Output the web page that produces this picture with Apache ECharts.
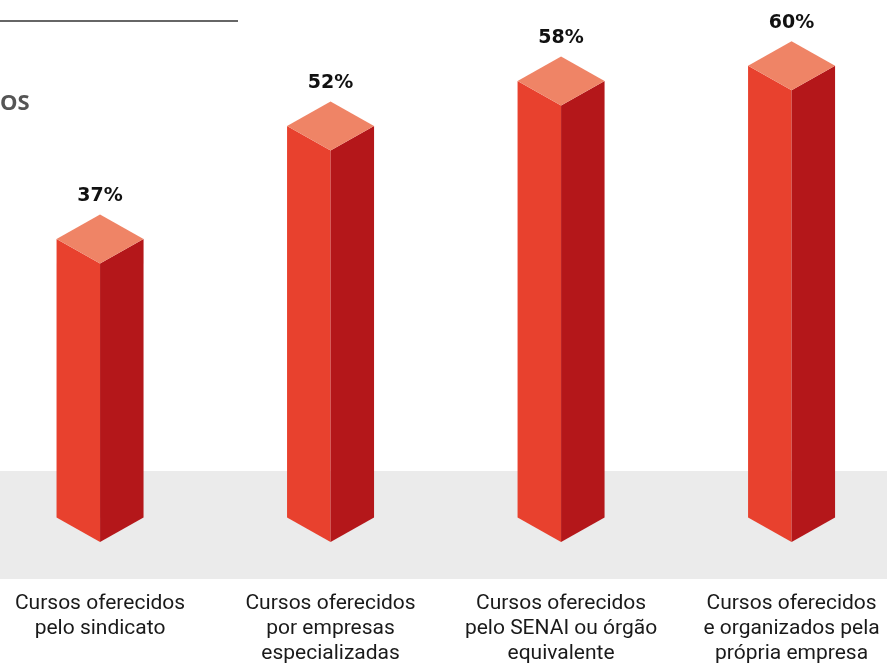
<!DOCTYPE html>
<html>
<head>
<meta charset="utf-8">
<script src="https://cdn.jsdelivr.net/npm/echarts@6/dist/echarts.min.js"></script>
<style>
  html, body { margin: 0; padding: 0; background: #ffffff; }
  #chart { width: 887px; height: 666px; }
</style>
</head>
<body>
<div id="chart"></div>
<script>
// Share of companies using each kind of training course (%)
const categories = [
  'Cursos oferecidos\npelo sindicato',
  'Cursos oferecidos\npor empresas\nespecializadas',
  'Cursos oferecidos\npelo SENAI ou órgão\nequivalente',
  'Cursos oferecidos\ne organizados pela\nprópria empresa'
];
const shares = [37, 52, 58, 60];
const titleFragment = 'OS';

const FRONT = '#E8412E';
const SIDE = '#B4171A';
const TOP = '#EF8466';

const chart = echarts.init(document.getElementById('chart'));

// Isometric prism: two visible side faces, a rhombus lid, value on top, category below
function renderPrism(params, api) {
  const idx = api.value(0);
  const val = api.value(1);
  const top = api.coord([idx, val]);
  const base = api.coord([idx, 0]);
  const cx = top[0];
  const hw = 43.5;   // half the prism width
  const dy = 24.5;   // vertical drop of the isometric edges
  const ty = top[1];
  const by = base[1];
  return {
    type: 'group',
    children: [
      {
        type: 'polygon',
        shape: { points: [[cx - hw, ty - dy], [cx, ty], [cx, by], [cx - hw, by - dy]] },
        style: { fill: FRONT }
      },
      {
        type: 'polygon',
        shape: { points: [[cx, ty], [cx + hw, ty - dy], [cx + hw, by - dy], [cx, by]] },
        style: { fill: SIDE }
      },
      {
        type: 'polygon',
        shape: { points: [[cx - hw, ty - dy], [cx, ty - 2 * dy], [cx + hw, ty - dy], [cx, ty]] },
        style: { fill: TOP }
      },
      {
        type: 'text',
        style: {
          x: cx,
          y: ty - 2 * dy - 18,
          text: val + '%',
          fill: '#111111',
          font: 'bold 19px "DejaVu Sans"',
          align: 'center',
          verticalAlign: 'middle'
        }
      },
      {
        type: 'text',
        style: {
          x: cx,
          y: by + 49,
          text: categories[idx],
          fill: '#1a1a1a',
          font: '21px Roboto',
          lineHeight: 25,
          align: 'center',
          verticalAlign: 'top'
        }
      }
    ]
  };
}

chart.setOption({
  animation: false,
  backgroundColor: '#ffffff',
  grid: { left: 0, right: 0, top: 0, bottom: 124, containLabel: false },
  xAxis: {
    type: 'value',
    min: -0.434,
    max: 3.414,
    show: false,
    splitLine: { show: false }
  },
  yAxis: {
    type: 'value',
    min: 0,
    max: 72,
    show: false,
    splitLine: { show: false }
  },
  graphic: [
    {
      type: 'rect',
      z: -10,
      silent: true,
      shape: { x: 0, y: 471, width: 887, height: 108 },
      style: { fill: '#EBEBEB' }
    },
    {
      type: 'line',
      silent: true,
      shape: { x1: 0, y1: 21, x2: 238, y2: 21 },
      style: { stroke: '#333333', lineWidth: 1.5 }
    },
    {
      type: 'text',
      silent: true,
      left: 0,
      top: 93,
      style: {
        text: titleFragment,
        fill: '#555555',
        font: 'bold 22px "Open Sans"'
      }
    }
  ],
  series: [
    {
      type: 'custom',
      renderItem: renderPrism,
      clip: false,
      data: shares.map((v, i) => [i, v]),
      encode: { x: 0, y: 1 }
    }
  ]
});
</script>
</body>
</html>
